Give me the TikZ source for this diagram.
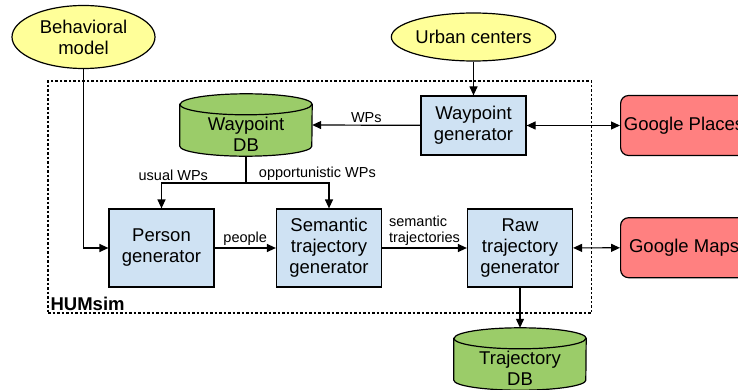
\documentclass[tikz,border=0pt]{standalone}
\usepackage{fontspec}
\setmainfont{Liberation Sans}
\usetikzlibrary{shapes.geometric}
\usetikzlibrary{arrows.meta}
\usetikzlibrary{positioning}

\definecolor{inputyellow}{RGB}{255,255,153}
\definecolor{modblue}{RGB}{207,226,243}
\definecolor{dbgreen}{RGB}{155,204,105}
\definecolor{apired}{RGB}{255,128,128}

\tikzset{
    every node/.style={font=\fontsize{18.5}{21}\selectfont, align=center},
    input/.style={ellipse, draw, line width=1.2pt, fill=inputyellow, inner sep=0pt},
    module/.style={rectangle, draw, line width=1.2pt, fill=modblue, inner sep=0pt,
        minimum width=105pt, minimum height=78pt},
    store/.style={rectangle, inner sep=0pt, minimum width=132pt, minimum height=62pt},
    storetext/.style={inner sep=0pt},
    api/.style={rectangle, rounded corners=8pt, draw, line width=1.2pt, fill=apired,
        anchor=west, inner xsep=3pt, minimum width=127pt, minimum height=60pt},
    flow/.style={line width=1.2pt, -{Triangle[length=9pt,width=8pt]}},
    biflow/.style={line width=1.2pt, {Triangle[length=9pt,width=8pt]}-{Triangle[length=9pt,width=8pt]}},
    tag/.style={font=\fontsize{14.5}{16}\selectfont, inner sep=1.5pt},
}

% database drum over a store node
\newcommand{\drawstore}[1]{%
    \draw[line width=1.2pt, fill=dbgreen] ([yshift=-10.5pt]#1.north west) -- ([yshift=10pt]#1.south west)
        arc[start angle=180, end angle=360, x radius=66pt, y radius=10pt]
        -- ([yshift=-10.5pt]#1.north east)
        arc[start angle=0, end angle=180, x radius=66pt, y radius=10.5pt] -- cycle;
    \draw[line width=1.2pt] ([yshift=-10.5pt]#1.north west)
        arc[start angle=180, end angle=360, x radius=66pt, y radius=10.5pt];}

\begin{document}
\begin{tikzpicture}[x=1pt, y=-1pt]
            \useasboundingbox (0,0) rectangle (738,390);
            % simulator frame
            \node[draw, dashed, dash pattern=on 2.5pt off 2pt, line width=1.2pt,
                minimum width=543.7pt, minimum height=232pt, inner sep=0pt]
                (humsim) at (319.85,197) {};
            \node[anchor=south west, font=\bfseries\fontsize{18.5}{21}\selectfont, inner sep=3pt]
                (humsimlbl) at (humsim.south west) {HUMsim};

            % inputs
            \node[input, minimum width=143pt, minimum height=63pt] (behav) at (83.5,37) {Behavioral\\model};
            \node[input, minimum width=164pt, minimum height=48pt] (urban) at (473.5,37) {Urban centers};

            % modules
            \node[store] (wpdb) at (246,125) {};
            \drawstore{wpdb}
            \node[storetext] (wpdbtxt) at (246,134) {Waypoint\\DB};
            \node[module, minimum height=59pt] (wpgen) at (473.5,125.5) {Waypoint\\generator};
            \node[module] (person) at (161.5,248) {Person\\generator};
            \node[module] (semantic) at (329,248) {Semantic\\trajectory\\generator};
            \node[module] (raw) at (520,248) {Raw\\trajectory\\generator};
            \node[store] (trajdb) at (520,359) {};
            \drawstore{trajdb}
            \node[storetext] (trajdbtxt) at (520,368) {Trajectory\\DB};

            % external services
            \node[api] (places) at (620,125.5) {Google Places};
            \node[api] (maps) at (620,247.7) {Google Maps};

            % connections
            \draw[flow] (urban) -- (wpgen);
            \draw[flow] (wpgen) -- node[tag, above] {WPs} (wpdb.east);
            \draw[biflow] (wpgen) -- (places);
            \draw[line width=1.2pt] (wpdb.south) -- ++(0,26.7) coordinate (split);
            \draw[flow] (split) -| node[tag, above, pos=0.43] {usual WPs} (person);
            \draw[flow] (split) -| node[tag, above, pos=0.43] {opportunistic WPs} (semantic);
            \draw[flow] (behav) |- (person);
            \draw[flow] (person) -- node[tag, above] {people} (semantic);
            \draw[flow] (semantic) -- node[tag, above, align=left] {semantic\\trajectories} (raw);
            \draw[biflow] (raw) -- (maps);
            \draw[flow] (raw) -- (trajdb.north);
        \end{tikzpicture}
\end{document}
